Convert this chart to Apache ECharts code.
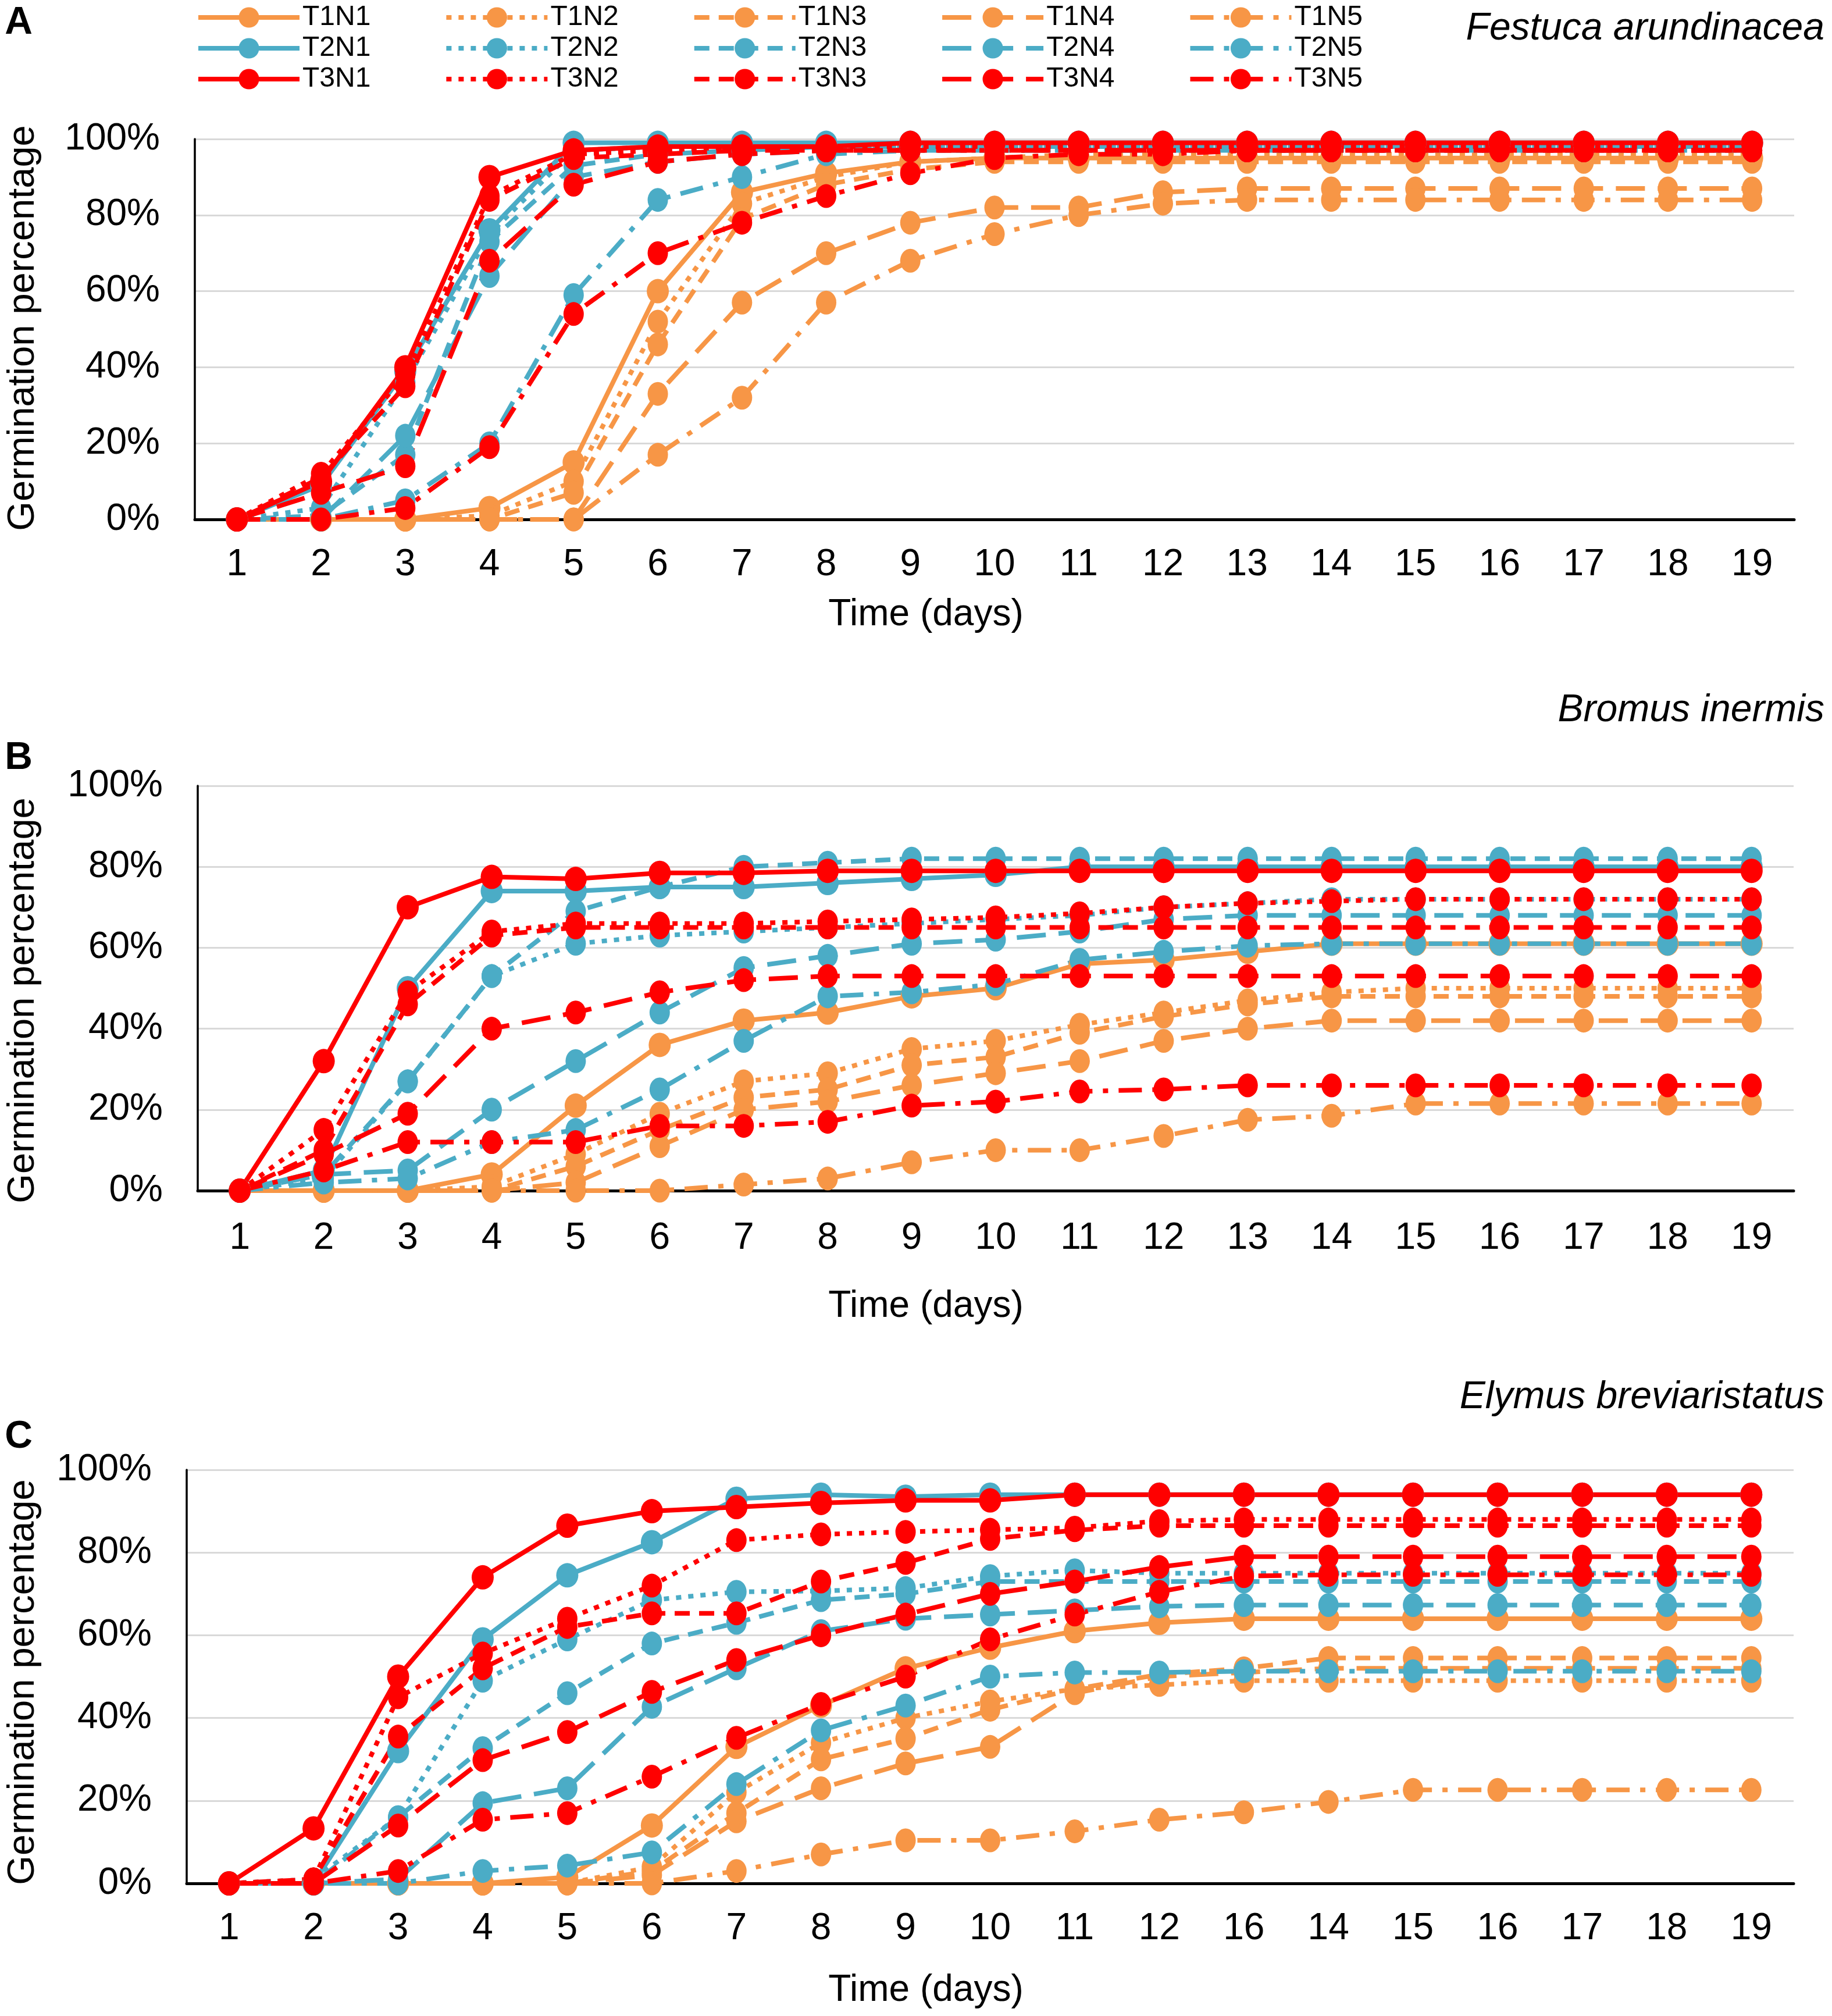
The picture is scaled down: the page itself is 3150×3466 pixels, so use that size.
<!DOCTYPE html>
<html>
<head>
<meta charset="utf-8">
<script src="https://cdn.jsdelivr.net/npm/echarts@6/dist/echarts.min.js"></script>
<style>
html,body{margin:0;padding:0;background:#fff;}
#chart{width:3150px;height:3466px;}
</style>
</head>
<body>
<div id="chart"></div>
<script>
// ---------- categories / tick labels ----------
const DAYS = ['1','2','3','4','5','6','7','8','9','10','11','12','13','14','15','16','17','18','19'];
const A_TICKS = ['1','2','3','4','5','6','7','8','9','10','11','12','13','14','15','16','17','18','19'];
const B_TICKS = ['1','2','3','4','5','6','7','8','9','10','11','12','13','14','15','16','17','18','19'];
const C_TICKS = ['1','2','3','4','5','6','7','8','9','10','11','12','16','14','15','16','17','18','19'];
const Y_TICKS = [0, 20, 40, 60, 80, 100];

// ---------- Panel A : Festuca arundinacea (germination %) ----------
const A_T1N1 = [0,0,0,3,15,60,86,91,94,95,95,95,95,95,95,95,95,95,95];
const A_T1N2 = [0,0,0,1,10,52,83,90,94,95,96,96,96,96,96,96,96,96,96];
const A_T1N3 = [0,0,0,0,7,46,79,88,92,94,94,94,94,94,94,94,94,94,94];
const A_T1N4 = [0,0,0,0,0,33,57,70,78,82,82,86,87,87,87,87,87,87,87];
const A_T1N5 = [0,0,0,0,0,17,32,57,68,75,80,83,84,84,84,84,84,84,84];
const A_T2N1 = [0,9,39,76,99,99,99,99,99,99,99,99,99,99,99,99,99,99,99];
const A_T2N2 = [0,3,36,75,97,98,98,98,98,98,98,98,98,98,98,98,98,98,98];
const A_T2N3 = [0,1,17,73,93,96,97,98,98,98,98,98,98,98,98,98,98,98,98];
const A_T2N4 = [0,0,22,64,90,94,96,97,97,97,97,97,97,97,97,97,97,97,97];
const A_T2N5 = [0,0,5,20,59,84,90,96,97,97,97,97,97,97,97,97,97,97,97];
const A_T3N1 = [0,10,40,90,97,98,98,98,99,99,99,99,99,99,99,99,99,99,99];
const A_T3N2 = [0,12,38,85,96,97,98,98,98,98,98,98,98,98,98,98,98,98,98];
const A_T3N3 = [0,11,35,84,95,96,97,97,97,97,97,97,97,97,97,97,97,97,97];
const A_T3N4 = [0,7,14,68,88,94,96,97,97,97,97,97,97,97,97,97,97,97,97];
const A_T3N5 = [0,0,3,19,54,70,78,85,91,95,96,96,97,97,97,97,97,97,97];

// ---------- Panel B : Bromus inermis ----------
const B_T1N1 = [0,0,0,4,21,36,42,44,48,50,56,57,59,61,61,61,61,61,61];
const B_T1N2 = [0,0,0,1,9,19,27,29,35,37,41,44,47,49,50,50,50,50,50];
const B_T1N3 = [0,0,0,0,6,15,23,25,31,33,39,43,46,48,48,48,48,48,48];
const B_T1N4 = [0,0,0,0,2,11,20,22,26,29,32,37,40,42,42,42,42,42,42];
const B_T1N5 = [0,0,0,0,0,0,1.5,3,7,10,10,13.5,17.5,18.5,21.5,21.5,21.5,21.5,21.5];
const B_T2N1 = [0,5,50,74,74,75,75,76,77,78,80,80,80,80,80,80,80,80,80];
const B_T2N2 = [0,3,27,53,61,63,64,65,66,67,68,70,71,72,72,72,72,72,72];
const B_T2N3 = [0,4,27,53,69,75,80,81,82,82,82,82,82,82,82,82,82,82,82];
const B_T2N4 = [0,4,5,20,32,44,55,58,61,62,64,67,68,68,68,68,68,68,68];
const B_T2N5 = [0,2,3,12,15,25,37,48,49,51,57,59,60.5,61,61,61,61,61,61];
const B_T3N1 = [0,32,70,77.5,77,78.5,78.5,79,79,79,79,79,79,79,79,79,79,79,79];
const B_T3N2 = [0,15,49,64,66,66,66,66.5,67,67.5,68.5,70,71,71.5,72,72,72,72,72];
const B_T3N3 = [0,10,46,63,65,65,65,65,65,65,65,65,65,65,65,65,65,65,65];
const B_T3N4 = [0,9,19,40,44,49,52,53,53,53,53,53,53,53,53,53,53,53,53];
const B_T3N5 = [0,5,12,12,12,16,16,17,21,22,24.5,25,26,26,26,26,26,26,26];

// ---------- Panel C : Elymus breviaristatus ----------
const C_T1N1 = [0,0,0,0,1.5,14,33,43,52,57,61,63,64,64,64,64,64,64,64];
const C_T1N2 = [0,0,0,0,0,4,22,34,40,44,47,48,49,49,49,49,49,49,49];
const C_T1N3 = [0,0,0,0,0,3,17,30,35,42,47,50.5,52,54.5,54.5,54.5,54.5,54.5,54.5];
const C_T1N4 = [0,0,0,0,0,2,15,23,29,33,46,50,51,52,52,52,52,52,52];
const C_T1N5 = [0,0,0,0,0,0,3,7,10.4,10.4,12.6,15.4,17.2,19.7,22.6,22.6,22.6,22.6,22.6];
const C_T2N1 = [0,0,32,59,74.5,82.5,93,94,93.5,94,94,94,94,94,94,94,94,94,94];
const C_T2N2 = [0,1,16,49,59,68.5,70.5,70.7,71.4,74.3,75.7,75,75,75,75,75,75,75,75];
const C_T2N3 = [0,0,16,32.7,46,58,63,68.5,70,73,73,73,73,73,73,73,73,73,73];
const C_T2N4 = [0,0,1,19.4,23,42.7,52,61,64,65,66,67,67.3,67.3,67.3,67.3,67.3,67.3,67.3];
const C_T2N5 = [0,0,0,3,4.3,7.5,24,37,43,50,51,51,51.3,51.3,51.3,51.3,51.3,51.3,51.3];
const C_T3N1 = [0,13.3,50,74,86.5,90,91,92,92.6,92.6,94,94,94,94,94,94,94,94,94];
const C_T3N2 = [0,1,45,55.6,64,72,83,84.4,85,85.5,86,87.6,88,88,88,88,88,88,88];
const C_T3N3 = [0,1,35.5,52,62,65.3,65.3,73,77.5,83.3,85.4,86.5,86.5,86.5,86.5,86.5,86.5,86.5,86.5];
const C_T3N4 = [0,0,14,29.8,36.6,46.3,54,60,65,70,73,76.5,79,79,79,79,79,79,79];
const C_T3N5 = [0,0,3,15.4,17,25.8,35.2,43.4,50,59,65,70.5,74.3,74.6,74.6,74.6,74.6,74.6,74.6];

// ---------- assembly ----------
const PANEL_DATA = [
  [[A_T1N1,A_T1N2,A_T1N3,A_T1N4,A_T1N5],[A_T2N1,A_T2N2,A_T2N3,A_T2N4,A_T2N5],[A_T3N1,A_T3N2,A_T3N3,A_T3N4,A_T3N5]],
  [[B_T1N1,B_T1N2,B_T1N3,B_T1N4,B_T1N5],[B_T2N1,B_T2N2,B_T2N3,B_T2N4,B_T2N5],[B_T3N1,B_T3N2,B_T3N3,B_T3N4,B_T3N5]],
  [[C_T1N1,C_T1N2,C_T1N3,C_T1N4,C_T1N5],[C_T2N1,C_T2N2,C_T2N3,C_T2N4,C_T2N5],[C_T3N1,C_T3N2,C_T3N3,C_T3N4,C_T3N5]]
];
const PANEL_TICKS = [A_TICKS, B_TICKS, C_TICKS];
const COLORS = ['#F79646', '#4BACC6', '#FF0000'];
const DASHES = ['solid', [9, 12], [26, 16], [50, 22], [40, 18, 9, 18]];
const FONT = '"Liberation Sans", Arial, Helvetica, sans-serif';

const GRIDS = [
  {left: 335, top: 239, width: 2750, height: 654},
  {left: 340, top: 1351, width: 2744, height: 696},
  {left: 321, top: 2527, width: 2763, height: 711}
];
const LABEL_MARGIN = [46, 50, 46];

const xAxes = [], yAxes = [], series = [];
GRIDS.forEach((g, gi) => {
  xAxes.push({
    type: 'category', gridIndex: gi, data: DAYS, boundaryGap: true,
    axisLine: {show: true, lineStyle: {color: '#000', width: 5}},
    axisTick: {show: false},
    splitLine: {show: false},
    axisLabel: {
      interval: 0, fontSize: 64, color: '#000', fontFamily: FONT, margin: LABEL_MARGIN[gi],
      formatter: (v, idx) => PANEL_TICKS[gi][idx]
    }
  });
  yAxes.push({
    type: 'value', gridIndex: gi, min: 0, max: 100, interval: 20,
    axisLine: {show: true, lineStyle: {color: '#000', width: 3.5}},
    axisTick: {show: false},
    splitLine: {show: true, lineStyle: {color: '#d9d9d9', width: 3}},
    axisLabel: {fontSize: 64, color: '#000', fontFamily: FONT, margin: 60, formatter: '{value}%'}
  });
  for (let t = 0; t < 3; t++) {
    for (let n = 0; n < 5; n++) {
      series.push({
        type: 'line', name: 'T' + (t + 1) + 'N' + (n + 1),
        xAxisIndex: gi, yAxisIndex: gi,
        data: PANEL_DATA[gi][t][n],
        symbol: 'circle', symbolSize: n === 0 ? [38, 42] : [35, 41], showAllSymbol: true,
        color: COLORS[t],
        itemStyle: {color: COLORS[t]},
        lineStyle: {color: COLORS[t], width: 8, type: DASHES[n]},
        emphasis: {disabled: true},
        animation: false
      });
    }
  }
});

const ROW_CENTERS = [28, 81, 134];
const legends = ROW_CENTERS.map((cy, r) => ({
  data: [1,2,3,4,5].map(n => 'T' + (r + 1) + 'N' + n),
  orient: 'horizontal', left: 337, top: cy - 22,
  itemWidth: 174, itemHeight: 44, itemGap: 126, padding: 0,
  selectedMode: false,
  lineStyle: {width: 8},
  textStyle: {fontSize: 48, color: '#000', fontFamily: FONT}
}));

function txt(text, x, y, opts) {
  return Object.assign({
    type: 'text', x: x, y: y, silent: true,
    style: Object.assign({
      text: text, fill: '#000', fontFamily: FONT, fontSize: 64,
      align: 'center', verticalAlign: 'middle',
      textAlign: 'center', textVerticalAlign: 'middle'
    }, opts.style || {})
  }, opts.el || {});
}

const graphics = [
  txt('A', 32, 40, {style: {fontWeight: 'bold', fontSize: 66}}),
  txt('B', 32, 1304, {style: {fontWeight: 'bold', fontSize: 66}}),
  txt('C', 32, 2471, {style: {fontWeight: 'bold', fontSize: 66}}),
  txt('Festuca arundinacea', 3137, 50, {style: {fontStyle: 'italic', fontSize: 66, align: 'right', textAlign: 'right'}}),
  txt('Bromus inermis', 3137, 1222, {style: {fontStyle: 'italic', fontSize: 66, align: 'right', textAlign: 'right'}}),
  txt('Elymus breviaristatus', 3137, 2403, {style: {fontStyle: 'italic', fontSize: 66, align: 'right', textAlign: 'right'}}),
  txt('Germination percentage', 40, 564, {el: {rotation: Math.PI / 2}, style: {fontSize: 65}}),
  txt('Germination percentage', 40, 1720, {el: {rotation: Math.PI / 2}, style: {fontSize: 65}}),
  txt('Germination percentage', 40, 2892, {el: {rotation: Math.PI / 2}, style: {fontSize: 65}}),
  txt('Time (days)', 1592, 1057, {style: {fontSize: 64}}),
  txt('Time (days)', 1592, 2246, {style: {fontSize: 64}}),
  txt('Time (days)', 1592, 3422, {style: {fontSize: 64}})
];

const chart = echarts.init(document.getElementById('chart'), null, {renderer: 'canvas'});
chart.setOption({
  backgroundColor: '#fff',
  animation: false,
  grid: GRIDS,
  xAxis: xAxes,
  yAxis: yAxes,
  legend: legends,
  series: series,
  graphic: graphics
});
</script>
</body>
</html>
